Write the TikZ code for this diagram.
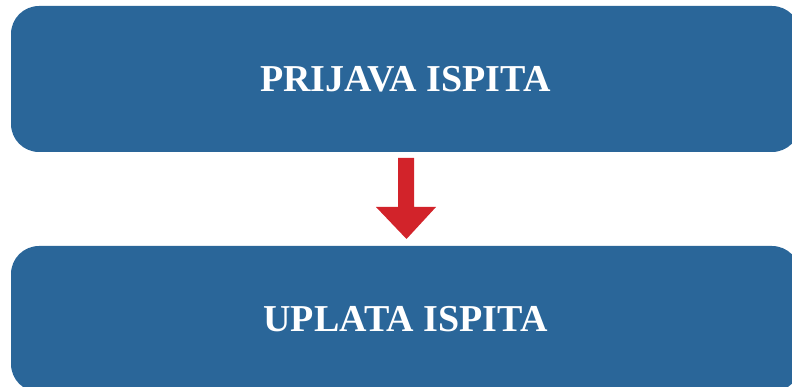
\documentclass[tikz,border=0pt]{standalone}
\usepackage{fontspec}
\setmainfont{Liberation Serif}
\definecolor{boxblue}{HTML}{2A6699}
\definecolor{arrred}{HTML}{D2232A}
\begin{document}
\begin{tikzpicture}[x=1pt,y=-1pt,
  stepbox/.style={fill=boxblue,draw=none,rounded corners=28pt,minimum width=789pt,minimum height=146pt,inner sep=0pt,
    text=white,font=\fontsize{38}{42}\selectfont\bfseries}]
\useasboundingbox (0,0) rectangle (792,387);
\node[stepbox] (prijava) at (405.5,79) {PRIJAVA ISPITA};
\node[stepbox] (uplata) at (405.5,319) {UPLATA ISPITA};
\fill[arrred] (398,158) -- (414,158) -- (414,207) -- (436,207) -- (406.5,239) -- (376,207) -- (398,207) -- cycle;
\end{tikzpicture}
\end{document}
